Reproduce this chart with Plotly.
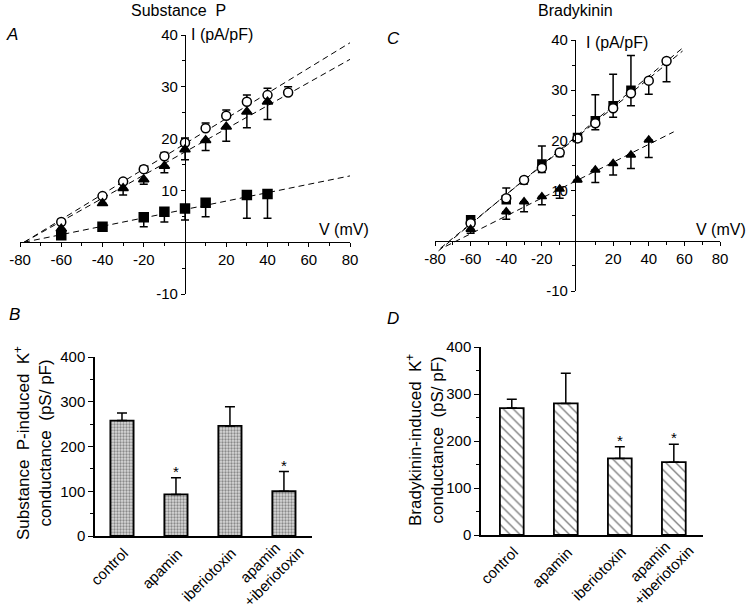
import plotly.graph_objects as go

# ---------------- Panel A (Substance P, I-V) ----------------
A_circ_V = [-60, -40, -30, -20, -10, 0, 10, 20, 30, 40, 50]
A_circ_I = [3.9, 8.9, 11.7, 14.1, 16.6, 19.2, 22.0, 24.4, 27.1, 28.4, 28.9]
A_circ_err_up = [0.5, 0.4, 0.5, 0.6, 0.7, 0.9, 1.0, 1.1, 1.3, 1.3, 1.1]

A_tri_V = [-60, -40, -30, -20, -10, 0, 10, 20, 30, 40]
A_tri_I = [2.6, 7.5, 10.4, 12.1, 14.7, 17.9, 19.7, 22.3, 25.2, 27.1]
A_tri_err_dn = [0.3, 0.3, 1.3, 0.9, 1.3, 2.0, 2.0, 2.8, 3.1, 3.4]

A_sq_V = [-60, -40, -20, -10, 0, 10, 30, 40]
A_sq_I = [1.35, 3.0, 4.8, 5.9, 6.5, 7.6, 9.1, 9.3]
A_sq_err_dn = [0.2, 0.7, 1.8, 2.0, 2.2, 2.7, 4.5, 4.7]

A_fit_circ_V = [-78, 80]
A_fit_circ_I = [0.0, 38.5]
A_fit_tri_V = [-78, 80]
A_fit_tri_I = [0.0, 35.3]
A_fit_sq_V = [-78, 80]
A_fit_sq_I = [0.0, 12.8]

# ---------------- Panel C (Bradykinin, I-V) ----------------
C_circ_V = [-60, -40, -30, -20, -10, 0, 10, 20, 30, 40, 50]
C_circ_I = [3.5, 8.5, 12.1, 14.5, 17.6, 20.4, 23.4, 26.4, 29.4, 31.9, 35.8]
C_circ_err_dn = [0.5, 0.4, 0.8, 0.9, 0.8, 0.4, 1.3, 1.8, 2.5, 2.7, 4.1]

C_sq_V = [-60, -40, -20, 0, 10, 20, 30]
C_sq_I = [4.2, 8.2, 15.3, 20.6, 23.9, 26.9, 30.0]
C_sq_err_up = [0.5, 2.3, 3.6, 0.3, 5.2, 6.3, 6.9]

C_tri_V = [-60, -40, -30, -20, -10, 0, 10, 20, 30, 40]
C_tri_I = [2.3, 5.8, 7.8, 8.8, 10.3, 12.1, 14.1, 15.4, 17.1, 20.1]
C_tri_err_dn = [0.8, 1.5, 2.0, 1.6, 1.8, 0.3, 2.5, 2.3, 2.7, 3.5]

C_fit_circ_V = [-77, 59]
C_fit_circ_I = [-1.5, 37.8]
C_fit_sq_V = [-78, 60]
C_fit_sq_I = [-2.0, 38.7]
C_fit_tri_V = [-74, 54]
C_fit_tri_I = [-1.1, 21.7]

# ---------------- Bar panels ----------------
bar_categories = ["control", "apamin", "iberiotoxin", "apamin<br>+iberiotoxin"]
B_values = [258, 93, 246, 100]
B_err_up = [17, 37, 43, 44]
B_signif = [False, True, False, True]
D_values = [270, 280, 163, 155]
D_err_up = [19, 64, 25, 38]
D_signif = [False, False, True, True]

FONT = "Liberation Sans, Arial, Helvetica, sans-serif"
BLACK = "black"

W, H = 750, 610


def px(x):
    return x / W


def py(y):
    return 1 - y / H


fig = go.Figure()


def iv_trace(x, y, sym, filled, ax, up=None, dn=None, size=9):
    err = None
    if up is not None or dn is not None:
        n = len(x)
        err = dict(type="data", symmetric=False,
                   array=up if up is not None else [0] * n,
                   arrayminus=dn if dn is not None else [0] * n,
                   color=BLACK, thickness=1.5, width=4)
    return go.Scatter(
        x=x, y=y, mode="markers", xaxis="x" + ax, yaxis="y" + ax,
        marker=dict(symbol=sym, size=size,
                    color=BLACK if filled else "white",
                    line=dict(color=BLACK, width=1.5)),
        error_y=err, showlegend=False, cliponaxis=False)


def fit_line(x, y, ax):
    return go.Scatter(x=x, y=y, mode="lines", xaxis="x" + ax, yaxis="y" + ax,
                      line=dict(color=BLACK, width=1, dash="6px,4px"),
                      showlegend=False, hoverinfo="skip")


# Panel A traces
fig.add_trace(fit_line(A_fit_circ_V, A_fit_circ_I, ""))
fig.add_trace(fit_line(A_fit_tri_V, A_fit_tri_I, ""))
fig.add_trace(fit_line(A_fit_sq_V, A_fit_sq_I, ""))
fig.add_trace(iv_trace(A_circ_V, A_circ_I, "circle", False, "", up=A_circ_err_up))
fig.add_trace(iv_trace(A_tri_V, A_tri_I, "triangle-up", True, "", dn=A_tri_err_dn))
fig.add_trace(iv_trace(A_sq_V, A_sq_I, "square", True, "", dn=A_sq_err_dn))

# Panel C traces
fig.add_trace(fit_line(C_fit_circ_V, C_fit_circ_I, "2"))
fig.add_trace(fit_line(C_fit_sq_V, C_fit_sq_I, "2"))
fig.add_trace(fit_line(C_fit_tri_V, C_fit_tri_I, "2"))
fig.add_trace(iv_trace(C_sq_V, C_sq_I, "square", True, "2", up=C_sq_err_up, size=8))
fig.add_trace(iv_trace(C_circ_V, C_circ_I, "circle", False, "2", dn=C_circ_err_dn))
fig.add_trace(iv_trace(C_tri_V, C_tri_I, "triangle-up", True, "2", dn=C_tri_err_dn, size=8))

# Bar panels
xs = list(range(len(bar_categories)))
fig.add_trace(go.Bar(
    x=xs, y=B_values, xaxis="x3", yaxis="y3", width=0.43,
    marker=dict(color="white", line=dict(color=BLACK, width=1.8),
                pattern=dict(shape=".", fgcolor="#3a3a3a", bgcolor="#d8d8d8",
                             size=3, solidity=0.45)),
    error_y=dict(type="data", symmetric=False, array=B_err_up,
                 arrayminus=[0] * len(xs), color=BLACK, thickness=1.5, width=5),
    showlegend=False))
fig.add_trace(go.Bar(
    x=xs, y=D_values, xaxis="x4", yaxis="y4", width=0.44,
    marker=dict(color="white", line=dict(color=BLACK, width=1.8),
                pattern=dict(shape="\\", fgcolor=BLACK, bgcolor="white",
                             size=7, solidity=0.2)),
    error_y=dict(type="data", symmetric=False, array=D_err_up,
                 arrayminus=[0] * len(xs), color=BLACK, thickness=1.5, width=5),
    showlegend=False))

tickfont = dict(family=FONT, size=15, color=BLACK)

iv_x_common = dict(range=[-80, 80], anchor="free", showline=True, linecolor=BLACK,
                   linewidth=1.3, ticks="outside", ticklen=4, tickwidth=1.2,
                   tickcolor=BLACK, tickmode="array",
                   tickvals=[-80, -60, -40, -20, 20, 40, 60, 80],
                   ticktext=["-80", "-60", "-40", "-20", "20", "40", "60", "80"],
                   minor=dict(tickmode="linear", tick0=-70, dtick=20, ticklen=3,
                              tickcolor=BLACK, ticks="outside"),
                   showgrid=False, zeroline=False, tickfont=tickfont,
                   automargin=False)
iv_y_common = dict(range=[-10, 40], anchor="free", showline=True, linecolor=BLACK,
                   linewidth=1.3, ticks="outside", ticklen=4, tickwidth=1.2,
                   tickcolor=BLACK, tickmode="array",
                   tickvals=[-10, 10, 20, 30, 40],
                   ticktext=["-10", "10", "20", "30", "40"],
                   minor=dict(tickmode="linear", tick0=-5, dtick=10, ticklen=3,
                              tickcolor=BLACK, ticks="outside"),
                   showgrid=False, zeroline=False, tickfont=tickfont,
                   automargin=False)

bar_x_common = dict(showline=True, linecolor=BLACK, linewidth=1.5, ticks="",
                    tickmode="array", tickvals=xs, showticklabels=False,
                    showgrid=False, zeroline=False, automargin=False)
bar_y_common = dict(range=[0, 400], showline=True, linecolor=BLACK, linewidth=1.5,
                    ticks="outside", ticklen=5, tickwidth=1.2, tickcolor=BLACK,
                    dtick=100,
                    minor=dict(dtick=50, ticklen=3, tickcolor=BLACK, ticks="outside"),
                    tickfont=tickfont, showgrid=False, zeroline=False,
                    automargin=False)

fig.update_layout(
    width=W, height=H, margin=dict(l=0, r=0, t=0, b=0, autoexpand=False),
    paper_bgcolor="white", plot_bgcolor="rgba(0,0,0,0)",
    font=dict(family=FONT, color=BLACK),
    xaxis=dict(domain=[px(20), px(350)], position=py(242), **iv_x_common),
    yaxis=dict(domain=[py(294), py(35)], position=px(185), **iv_y_common),
    xaxis2=dict(domain=[px(435), px(720)], position=py(241), **iv_x_common),
    yaxis2=dict(domain=[py(291), py(40)], position=px(575), **iv_y_common),
    xaxis3=dict(domain=[px(95), px(312)], anchor="y3", range=[-0.5, 3.52],
                **bar_x_common),
    yaxis3=dict(domain=[py(536), py(357)], anchor="x3", **bar_y_common),
    xaxis4=dict(domain=[px(481), px(703)], anchor="y4", range=[-0.57, 3.54],
                **bar_x_common),
    yaxis4=dict(domain=[py(535), py(347)], anchor="x4", **bar_y_common),
)

ann = []


def paper_text(text, x, y, size=15, xanchor="center", yanchor="middle",
               italic=False, angle=0):
    ann.append(dict(text=("<i>%s</i>" % text) if italic else text,
                    x=px(x), y=py(y), xref="paper", yref="paper",
                    showarrow=False, xanchor=xanchor, yanchor=yanchor,
                    textangle=angle,
                    font=dict(family=FONT, size=size, color=BLACK)))


paper_text("Substance  P", 178, 11, size=16)
paper_text("Bradykinin", 575, 11, size=16)
paper_text("A", 12, 35, size=17, italic=True)
paper_text("C", 393, 38, size=17, italic=True)
paper_text("B", 14, 314, size=17, italic=True)
paper_text("D", 393, 318, size=17, italic=True)
paper_text("I (pA/pF)", 189, 35, size=16, xanchor="left")
paper_text("I (pA/pF)", 584, 42, size=16, xanchor="left")
paper_text("V (mV)", 371, 230, size=16, xanchor="right")
paper_text("V (mV)", 748, 230, size=16, xanchor="right")
paper_text("Substance  P-induced  K<sup>+</sup><br>conductance  (pS/ pF)", 33, 443,
           size=17, angle=-90)
paper_text("Bradykinin-induced  K<sup>+</sup><br>conductance  (pS/ pF)", 425, 440,
           size=17, angle=-90)

# rotated category labels under the bar charts
for axn in ("3", "4"):
    for i, lab in enumerate(bar_categories):
        two = "<br>" in lab
        ann.append(dict(text=lab, x=xs[i], y=0, xref="x" + axn, yref="y" + axn,
                        showarrow=False, textangle=-45, xanchor="right",
                        yanchor="top", align="center",
                        xshift=26 if two else 12, yshift=10 if two else -6,
                        font=dict(family=FONT, size=15, color=BLACK)))

# significance stars on bar charts
for i, s in enumerate(B_signif):
    if s:
        ann.append(dict(text="*", x=xs[i], y=B_values[i] + B_err_up[i],
                        xref="x3", yref="y3", showarrow=False, yanchor="bottom",
                        yshift=-4, font=dict(family=FONT, size=15, color=BLACK)))
for i, s in enumerate(D_signif):
    if s:
        ann.append(dict(text="*", x=xs[i], y=D_values[i] + D_err_up[i],
                        xref="x4", yref="y4", showarrow=False, yanchor="bottom",
                        yshift=-4, font=dict(family=FONT, size=15, color=BLACK)))

fig.update_layout(annotations=ann)
fig.write_html(
    "out.html",
    config={"displayModeBar": False},
    post_script="document.body.style.margin='0';"
                "document.body.style.overflow='hidden';")
